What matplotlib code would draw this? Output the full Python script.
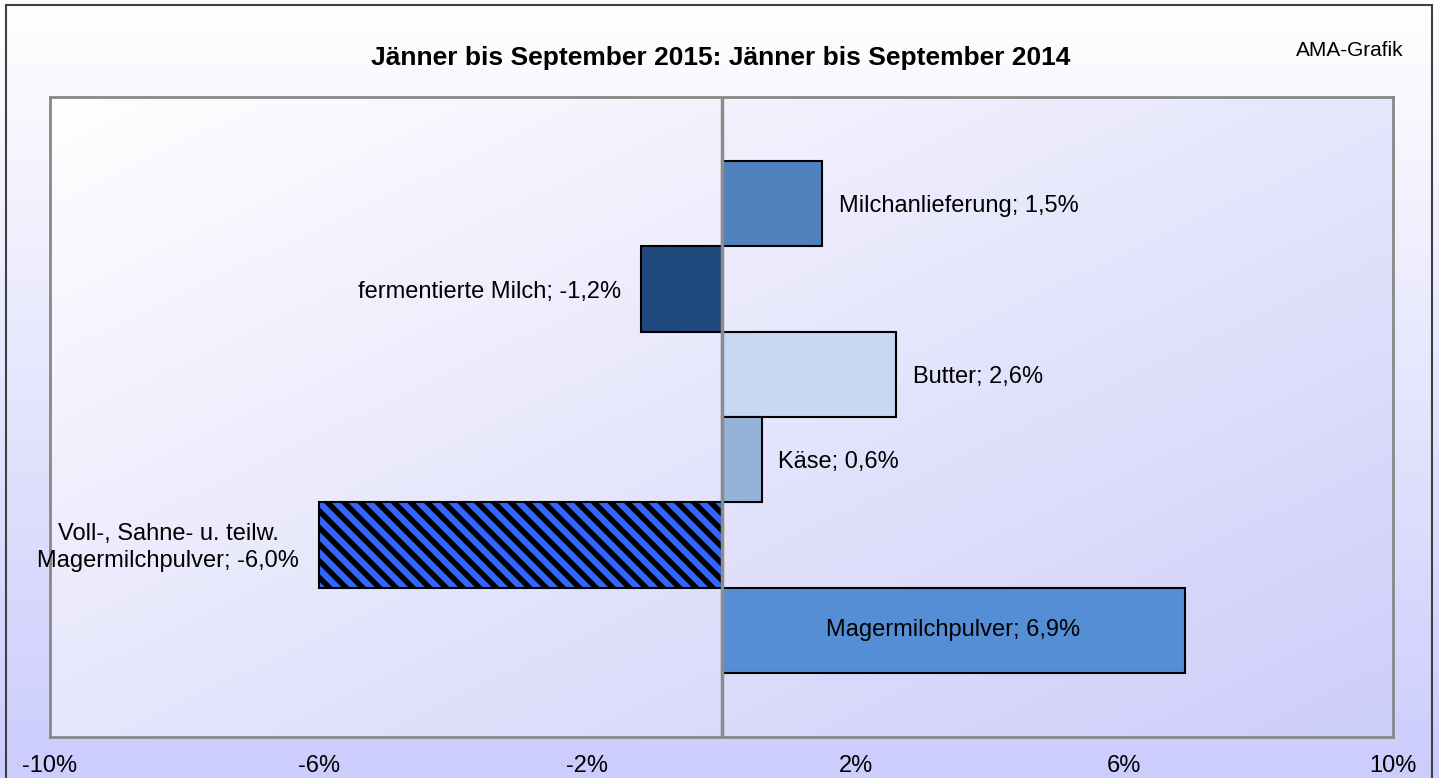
import matplotlib
matplotlib.use("Agg")
import matplotlib.pyplot as plt
import numpy as np
from matplotlib.colors import to_rgb
from matplotlib.patches import Rectangle

plt.rcParams["font.family"] = ["Liberation Sans", "DejaVu Sans"]

categories = [
    "Milchanlieferung",
    "fermentierte Milch",
    "Butter",
    "Käse",
    "Voll-, Sahne- u. teilw.\nMagermilchpulver",
    "Magermilchpulver",
]
values = [1.5, -1.2, 2.6, 0.6, -6.0, 6.9]
bar_colors = ["#4F81BD", "#1F497D", "#C6D9F1", "#95B3D7", "#000000", "#558ED5"]
hatched = [False, False, False, False, True, False]
label_inside = [False, False, False, False, False, True]
xticks = [-10, -6, -2, 2, 6, 10]
title = "Jänner bis September 2015: Jänner bis September 2014"


def fmt_label(cat, val):
    num = f"{val:.1f}".replace(".", ",")
    return f"{cat}; {num}%"


fig = plt.figure(figsize=(14.39, 7.78), dpi=100)

# figure background: vertical gradient white -> lavender
bg = fig.add_axes([0, 0, 1, 1], zorder=-10)
bg.axis("off")
top = np.array(to_rgb("#FFFFFF"))
bot = np.array(to_rgb("#CCCCFD"))
t = np.linspace(0, 1, 256)[:, None, None]
bg.imshow(top * (1 - t) + bot * t, aspect="auto", extent=[0, 1, 0, 1])
bg.set_xlim(0, 1)
bg.set_ylim(0, 1)
W, H = 1439, 778
bg.add_patch(Rectangle((6 / W, -0.01), 1426 / W, 1 - 5 / H + 0.01,
                       fill=False, edgecolor="#404040", linewidth=1.5))

ax = fig.add_axes([50 / W, 1 - 737 / H, 1343 / W, 640 / H])
ax.set_xlim(-10, 10)
ax.set_ylim(6.25, -1.25)

# plot area: diagonal gradient
gx, gy = np.meshgrid(np.linspace(0, 1, 200), np.linspace(0, 1, 200))
tt = ((gx + gy) / 2)[:, :, None]
c_end = np.array(to_rgb("#CDCDFA"))
ax.imshow(np.ones(3) * (1 - tt) + c_end * tt, aspect="auto",
          extent=[-10, 10, 6.25, -1.25], zorder=0)

plt.rcParams["hatch.linewidth"] = 4.5
y = np.arange(len(categories))
for i, (val, col) in enumerate(zip(values, bar_colors)):
    if hatched[i]:
        ax.barh(y[i], val, height=1.0, facecolor="black", edgecolor="#3366FF",
                hatch="\\\\", linewidth=0, zorder=2)
        ax.barh(y[i], val, height=1.0, fill=False, edgecolor="black",
                linewidth=1.5, zorder=2)
    else:
        ax.barh(y[i], val, height=1.0, color=col, edgecolor="black",
                linewidth=1.5, zorder=2)

ax.axvline(0, color="#8C8C8C", linewidth=2.5, zorder=3)

for i, (cat, val) in enumerate(zip(categories, values)):
    txt = fmt_label(cat, val)
    if label_inside[i]:
        ax.text(val / 2, y[i], txt, ha="center", va="center", fontsize=17, zorder=4)
    else:
        off = 12 if val > 0 else -14
        ax.annotate(txt, (val, y[i]), xytext=(off, -2), textcoords="offset points",
                    ha="left" if val > 0 else "right", va="center",
                    fontsize=17, multialignment="center", linespacing=1.3,
                    zorder=4)

ax.set_xticks(xticks)
ax.set_xticklabels([f"{v}%" for v in xticks], fontsize=17)
ax.tick_params(axis="x", length=0, pad=13)
ax.set_yticks([])
for s in ax.spines.values():
    s.set_color("#888888")
    s.set_linewidth(2)

fig.text(721 / W, 1 - 58 / H, title, ha="center", va="center",
         fontsize=19, fontweight="bold")
fig.text(1350 / W, 1 - 51 / H, "AMA-Grafik", ha="center", va="center", fontsize=15)

fig.savefig("out.png", dpi=100)
